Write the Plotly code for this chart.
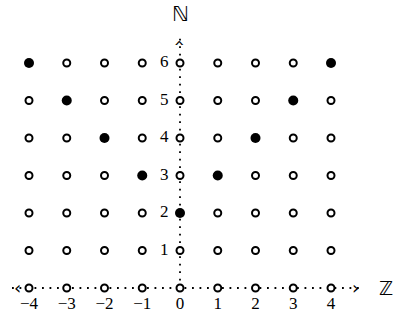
import plotly.graph_objects as go

z_vals = [-4, -3, -2, -1, 0, 1, 2, 3, 4]
n_vals = [0, 1, 2, 3, 4, 5, 6]
x_tick_labels = ["−4", "−3", "−2", "−1", "0", "1", "2", "3", "4"]
y_tick_labels = ["1", "2", "3", "4", "5", "6"]
hi_x = [0, -1, 1, -2, 2, -3, 3, -4, 4]
hi_y = [2, 3, 3, 4, 4, 5, 5, 6, 6]

x_axis_span = [-4.45, 4.8]
y_axis_span = [0, 6.69]

hi_set = set(zip(hi_x, hi_y))
open_x, open_y = [], []
for n in n_vals:
    for z in z_vals:
        if (z, n) not in hi_set:
            open_x.append(z)
            open_y.append(n)

fig = go.Figure()
dot = "1.8px,5.7px"
fig.add_trace(go.Scatter(x=x_axis_span, y=[0, 0], mode="lines",
                         line=dict(color="black", width=1.8, dash=dot), hoverinfo="skip"))
fig.add_trace(go.Scatter(x=[0, 0], y=y_axis_span, mode="lines",
                         line=dict(color="black", width=1.8, dash=dot), hoverinfo="skip"))
fig.add_trace(go.Scatter(x=open_x, y=open_y, mode="markers",
                         marker=dict(size=7, color="white", line=dict(color="black", width=2)),
                         hoverinfo="skip"))
fig.add_trace(go.Scatter(x=hi_x, y=hi_y, mode="markers",
                         marker=dict(size=10, color="black", line=dict(width=0)),
                         hoverinfo="skip"))
# tick labels
fig.add_trace(go.Scatter(x=z_vals, y=[-0.45] * len(z_vals), mode="text", text=x_tick_labels,
                         textfont=dict(family="Liberation Serif", size=17, color="black"),
                         hoverinfo="skip"))
fig.add_trace(go.Scatter(x=[-0.42] * len(y_tick_labels), y=n_vals[1:], mode="text", text=y_tick_labels,
                         textfont=dict(family="Liberation Serif", size=17, color="black"),
                         hoverinfo="skip"))

# arrowheads as chevron glyphs
head_font = dict(family="DejaVu Sans", size=18, color="black")
fig.add_annotation(x=x_axis_span[0], y=0, text="‹", showarrow=False, xanchor="left",
                   yshift=1, font=head_font)
fig.add_annotation(x=x_axis_span[1], y=0, text="›", showarrow=False, xanchor="right",
                   yshift=1, font=head_font)
fig.add_annotation(x=0, y=y_axis_span[1], text="‹", showarrow=False, textangle=90,
                   yanchor="top", font=head_font)

fig.add_annotation(x=5.46, y=0, text="ℤ", showarrow=False,
                   font=dict(family="DejaVu Sans", size=19, color="black"))
fig.add_annotation(x=0, y=7.3, text="ℕ", showarrow=False,
                   font=dict(family="DejaVu Sans", size=21, color="black"))

fig.update_layout(
    width=394, height=320,
    margin=dict(l=0, r=0, t=0, b=0),
    plot_bgcolor="white", paper_bgcolor="white",
    showlegend=False,
    xaxis=dict(range=[-180 / 37.75, 214 / 37.75], visible=False, fixedrange=True),
    yaxis=dict(range=[-32 / 37.5, 288 / 37.5], visible=False, fixedrange=True),
)
fig.write_html("out.html", config={"displayModeBar": False},
               post_script="document.body.style.margin='0px';document.body.style.overflow='hidden';")
